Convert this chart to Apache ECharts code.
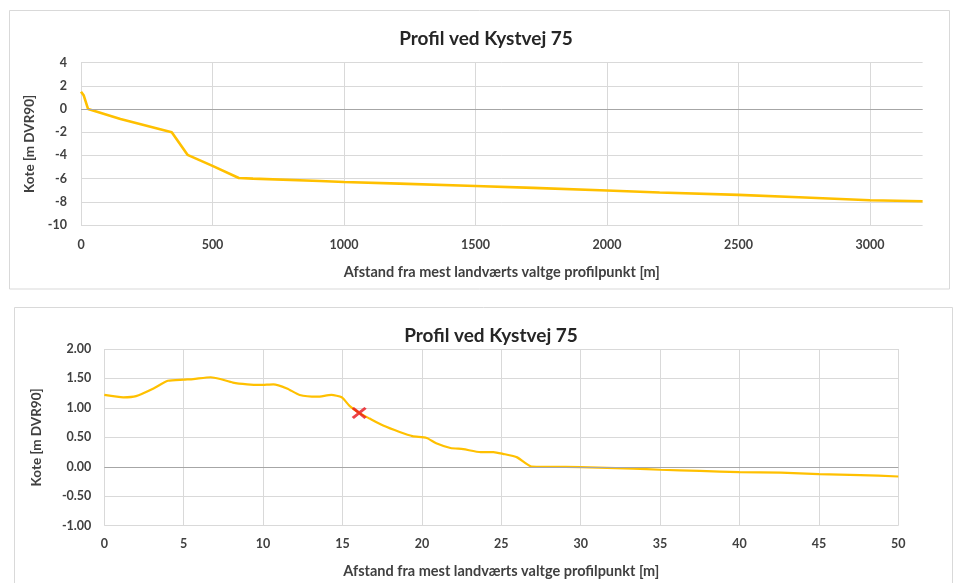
<!DOCTYPE html>
<html>
<head>
<meta charset="utf-8">
<script src="https://cdn.jsdelivr.net/npm/echarts@6/dist/echarts.min.js"></script>
<style>
  html, body { margin: 0; padding: 0; background: #ffffff; }
  #chart { width: 960px; height: 583px; }
</style>
</head>
<body>
<div id="chart"></div>
<script>
// Full profile, 0 - 3200 m
const topDist = [0, 5, 10, 15, 27, 150, 345, 405, 500, 600, 654, 908, 1000, 1211, 1500, 1719, 2000, 2200, 2500, 2730, 3000, 3200];
const topKote = [1.5, 1.5, 1.2, 1.2, 0, -0.85, -2.0, -3.95, -4.9, -5.95, -6.0, -6.2, -6.29, -6.43, -6.63, -6.8, -7.03, -7.2, -7.4, -7.6, -7.86, -7.95];

// Detail of the first 50 m
const nearDist = [0, 1.2, 2.0, 3.1, 4.0, 5.0, 5.6, 6.7, 7.3, 8.1, 9.0, 9.8, 10.65, 11.5, 12.3, 13.4, 14.3, 14.95, 15.46, 16.05, 16.7, 17.56, 18.6, 19.4, 20.3, 20.9, 21.8, 22.6, 23.7, 24.5, 25.1, 26.0, 26.9, 28.1, 30, 33.3, 35, 37.5, 40, 42.6, 45, 47.6, 50];
const nearKote = [1.22, 1.18, 1.2, 1.33, 1.46, 1.48, 1.49, 1.52, 1.49, 1.43, 1.40, 1.39, 1.40, 1.33, 1.22, 1.19, 1.22, 1.18, 1.03, 0.915, 0.82, 0.70, 0.59, 0.52, 0.49, 0.40, 0.32, 0.30, 0.25, 0.25, 0.22, 0.16, 0.005, 0, -0.005, -0.03, -0.05, -0.07, -0.09, -0.10, -0.125, -0.14, -0.165];

// Marked point on the detail profile
const markDist = [16.05];
const markKote = [0.915];

const titleText = 'Profil ved Kystvej 75';
const xName = 'Afstand fra mest landværts valtge profilpunkt [m]';
const yName = 'Kote [m DVR90]';

const FONT = 'Lato, "Open Sans", sans-serif';
const TXT = '#404040';
const GRIDC = '#d9d9d9';
const LINEC = '#FFC000';

const pairs = (xs, ys) => xs.map((x, i) => [x, ys[i]]);

const axisLabelStyle = { color: TXT, fontFamily: FONT, fontWeight: 'bold', fontSize: 12.5 };
const xNameStyle = { color: TXT, fontFamily: FONT, fontWeight: 'bold', fontSize: 14.5 };
const yNameStyle = { color: TXT, fontFamily: FONT, fontWeight: 'bold', fontSize: 13.5 };
const zeroLine = {
  silent: true,
  symbol: 'none',
  label: { show: false },
  lineStyle: { color: '#a6a6a6', width: 1, type: 'solid' },
  data: [{ yAxis: 0 }]
};
const crossPath = 'path://M1.5,0 L5,3.5 L8.5,0 L10,1.5 L6.5,5 L10,8.5 L8.5,10 L5,6.5 L1.5,10 L0,8.5 L3.5,5 L0,1.5 Z';

const chart = echarts.init(document.getElementById('chart'), null, { renderer: 'canvas' });

chart.setOption({
  backgroundColor: '#ffffff',
  animation: false,
  graphic: [
    { type: 'rect', shape: { x: 9.5, y: 10.5, width: 940, height: 278.5 },
      style: { fill: 'none', stroke: GRIDC, lineWidth: 1 }, z: -1 },
    { type: 'rect', shape: { x: 14.5, y: 307.5, width: 938, height: 290 },
      style: { fill: 'none', stroke: GRIDC, lineWidth: 1 }, z: -1 }
  ],
  title: [
    { text: titleText, left: 481, top: 24, textAlign: 'center',
      textStyle: { color: '#262626', fontFamily: FONT, fontWeight: 'bold', fontSize: 19 } },
    { text: titleText, left: 486, top: 321, textAlign: 'center',
      textStyle: { color: '#262626', fontFamily: FONT, fontWeight: 'bold', fontSize: 19 } }
  ],
  grid: [
    { left: 81, right: 37.4, top: 62.7, height: 162.3 },
    { left: 104.3, right: 61.7, top: 349, height: 176.7 }
  ],
  xAxis: [
    {
      gridIndex: 0, type: 'value', min: 0, max: 3200, interval: 500,
      name: xName, nameLocation: 'middle', nameGap: 40, nameTextStyle: xNameStyle,
      axisLine: { show: false }, axisTick: { show: false },
      axisLabel: Object.assign({ margin: 13, showMaxLabel: false, formatter: v => String(v) }, axisLabelStyle),
      splitLine: { show: true, showMaxLine: false, lineStyle: { color: GRIDC, width: 1 } }
    },
    {
      gridIndex: 1, type: 'value', min: 0, max: 50, interval: 5,
      name: xName, nameLocation: 'middle', nameGap: 38, nameTextStyle: xNameStyle,
      axisLine: { show: false }, axisTick: { show: false },
      axisLabel: Object.assign({ margin: 12, formatter: v => String(v) }, axisLabelStyle),
      splitLine: { show: true, lineStyle: { color: GRIDC, width: 1 } }
    }
  ],
  yAxis: [
    {
      gridIndex: 0, type: 'value', min: -10, max: 4, interval: 2,
      name: yName, nameLocation: 'middle', nameGap: 44, nameTextStyle: yNameStyle,
      axisLine: { show: false }, axisTick: { show: false },
      axisLabel: Object.assign({ margin: 14 }, axisLabelStyle),
      splitLine: { show: true, lineStyle: { color: GRIDC, width: 1 } }
    },
    {
      gridIndex: 1, type: 'value', min: -1, max: 2, interval: 0.5,
      name: yName, nameLocation: 'middle', nameGap: 61, nameTextStyle: yNameStyle,
      axisLine: { show: false }, axisTick: { show: false },
      axisLabel: Object.assign({ margin: 13, formatter: v => v.toFixed(2) }, axisLabelStyle),
      splitLine: { show: true, lineStyle: { color: GRIDC, width: 1 } }
    }
  ],
  series: [
    {
      type: 'line', xAxisIndex: 0, yAxisIndex: 0,
      data: pairs(topDist, topKote),
      showSymbol: false, symbol: 'none',
      lineStyle: { color: LINEC, width: 2.6 },
      markLine: zeroLine, z: 3
    },
    {
      type: 'line', xAxisIndex: 1, yAxisIndex: 1,
      data: pairs(nearDist, nearKote),
      showSymbol: false, symbol: 'none', smooth: 0.2,
      lineStyle: { color: LINEC, width: 2.2 },
      markLine: zeroLine, z: 3
    },
    {
      type: 'scatter', xAxisIndex: 1, yAxisIndex: 1,
      data: pairs(markDist, markKote),
      symbol: crossPath, symbolSize: [15, 12],
      itemStyle: { color: '#e8141c' }, z: 5
    }
  ]
});
</script>
</body>
</html>
